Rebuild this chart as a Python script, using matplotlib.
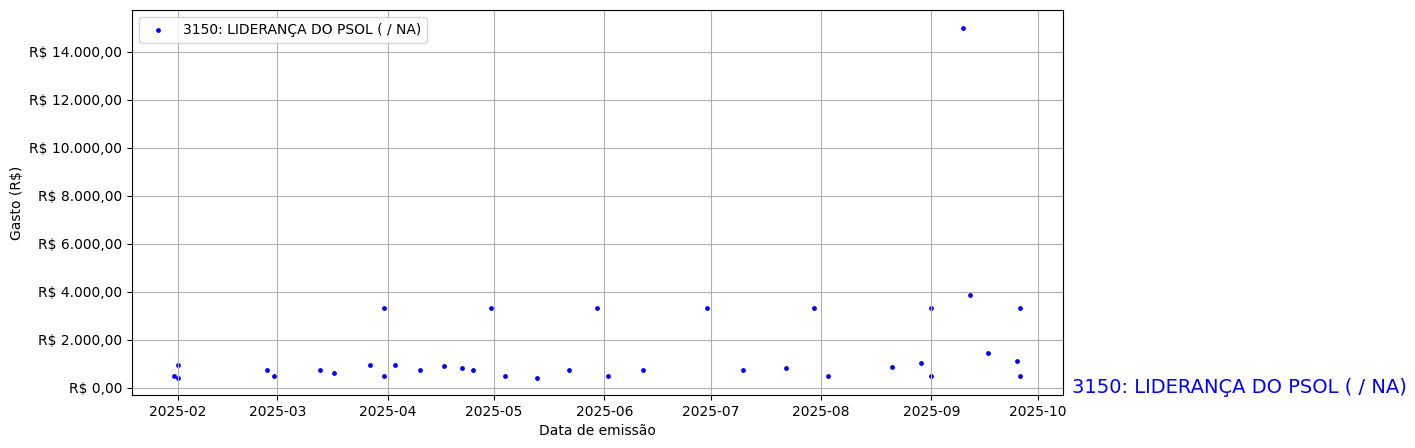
import matplotlib
matplotlib.use("Agg")
import matplotlib.pyplot as plt
import matplotlib.dates as mdates
import matplotlib.ticker as mticker
import pandas as pd

label = "3150: LIDERANÇA DO PSOL ( / NA)"

dates = [
    "2025-01-31", "2025-02-01", "2025-02-01", "2025-02-26", "2025-02-28",
    "2025-03-13", "2025-03-17", "2025-03-27", "2025-03-31", "2025-03-31",
    "2025-04-03", "2025-04-10", "2025-04-17", "2025-04-22", "2025-04-25",
    "2025-04-30", "2025-05-04", "2025-05-13", "2025-05-22", "2025-05-30",
    "2025-06-02", "2025-06-12", "2025-06-30", "2025-07-10", "2025-07-22",
    "2025-07-30", "2025-08-03", "2025-08-21", "2025-08-29", "2025-09-01",
    "2025-09-01", "2025-09-10", "2025-09-12", "2025-09-17", "2025-09-25",
    "2025-09-26", "2025-09-26",
]
values = [
    500, 960, 420, 750, 500,
    750, 625, 960, 3300, 500,
    960, 750, 920, 830, 750,
    3300, 500, 420, 750, 3300,
    500, 750, 3300, 750, 830,
    3300, 500, 875, 1040, 3300,
    500, 15000, 3875, 1460, 1125,
    3300, 500,
]

x = pd.to_datetime(dates)

fig = plt.figure(figsize=(14.15, 4.48), dpi=100)
ax = fig.add_axes([132/1415, 1 - 395/448, (1062.5 - 132)/1415, (395 - 10.5)/448])
ax.scatter(x, values, s=6, color="blue", label=label)

def brl(v, pos):
    s = f"{v:,.2f}"
    s = s.replace(",", "X").replace(".", ",").replace("X", ".")
    return f"R$ {s}"

ax.yaxis.set_major_formatter(mticker.FuncFormatter(brl))
ax.xaxis.set_major_locator(mdates.MonthLocator())
ax.xaxis.set_major_formatter(mdates.DateFormatter("%Y-%m"))
ax.grid(True)
ax.set_xlabel("Data de emissão")
ax.set_ylabel("Gasto (R$)")
ax.legend(loc="upper left")
ax.text(1.01, 0, label, transform=ax.get_yaxis_transform(), color="blue",
        fontsize=14, va="center", ha="left")

fig.savefig("out.png", dpi=100)
